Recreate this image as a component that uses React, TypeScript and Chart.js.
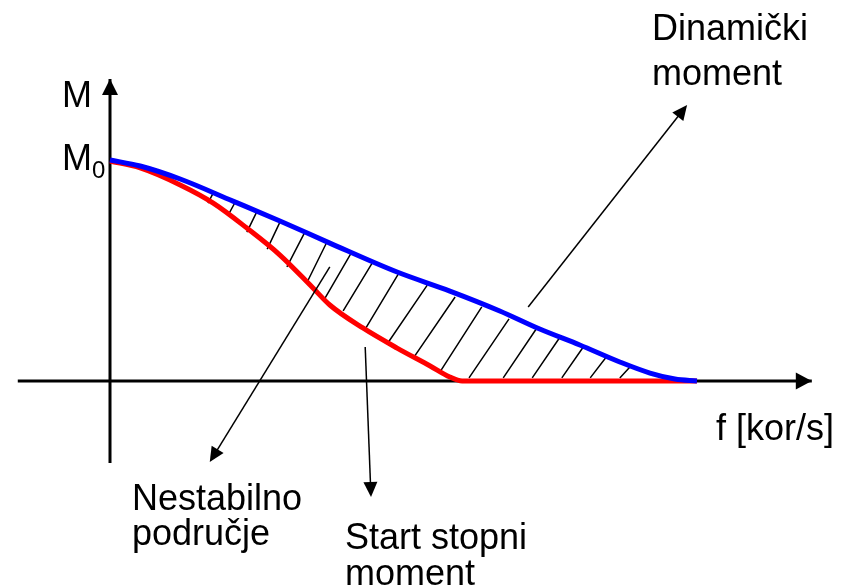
import React, { useEffect, useRef } from "react";
import { Chart, registerables } from "chart.js";

Chart.register(...registerables);

// Frequency f (0..~100, blue curve reaches zero at ~100) and torque M (M0 = 100)
const blueF = [0, 5.2, 12.1, 21.2, 29.3, 37.9, 49.5, 58.6, 67.2, 74.1, 81.0, 87.9, 93.1, 97.4, 101.2];
const blueM = [100, 97.3, 91.4, 81.4, 72.4, 62.4, 49.3, 40.7, 31.7, 23.5, 16.3, 8.6, 3.6, 0.9, 0];

const redF = [0, 5.2, 12.1, 17.8, 23.6, 29.3, 35.0, 37.9, 43.6, 49.5, 55.2, 58.6, 60.7, 101.2];
const redM = [99.5, 96.4, 88.7, 80.5, 69.2, 57.0, 42.1, 34.4, 24.0, 14.9, 6.8, 1.8, 0, 0];

// Hatching between the curves: start (on red) and end (on blue) of each stroke
const hatchF0 = [16.9, 20.3, 23.6, 27.1, 30.5, 34.0, 37.1, 40.2, 44.0, 47.9, 52.2, 56.9, 61.9, 67.8, 72.8, 77.9, 82.8, 87.9];
const hatchM0 = [80.5, 74.7, 67.4, 59.7, 51.6, 44.8, 37.6, 31.7, 23.5, 17.2, 10.0, 4.1, 1.4, 1.4, 1.4, 1.4, 1.4, 1.4];
const hatchF1 = [17.8, 21.6, 25.3, 29.3, 33.6, 37.4, 41.7, 45.3, 49.7, 54.7, 59.5, 64.1, 68.8, 73.6, 77.6, 81.6, 85.7, 89.8];
const hatchM1 = [85.1, 81.0, 76.5, 71.9, 67.4, 62.9, 58.4, 53.8, 48.4, 43.4, 38.0, 33.5, 28.1, 24.0, 19.9, 15.4, 11.3, 6.8];

// Axes (with arrow heads at the end)
const xAxisF = [-15.9, 121.0];
const xAxisM = [0, 0];
const yAxisF = [0, 0];
const yAxisM = [-37.1, 136.7];

// Annotation arrows: Dinamički moment, Nestabilno područje, Start stopni moment
const arrowTailF = [72.1, 37.9, 44.0];
const arrowTailM = [33.5, 51.6, 15.4];
const arrowHeadF = [99.5, 17.2, 45.0];
const arrowHeadM = [124.9, -36.7, -52.5];

const FONT = '"Liberation Sans", Arial, sans-serif';

type Label = { text: string; x: number; y: number; size: number };
const labels: Label[] = [
  { text: "M", x: 62, y: 107, size: 36 },
  { text: "M", x: 62, y: 170, size: 36 },
  { text: "0", x: 92, y: 178, size: 24 },
  { text: "Dinamički", x: 652, y: 40, size: 36 },
  { text: "moment", x: 652, y: 85, size: 36 },
  { text: "f [kor/s]", x: 716, y: 440, size: 36 },
  { text: "Nestabilno", x: 132, y: 510, size: 36 },
  { text: "područje", x: 132, y: 545, size: 36 },
  { text: "Start stopni", x: 345, y: 549, size: 36 },
  { text: "moment", x: 345, y: 585, size: 36 },
];

function drawArrowHead(ctx: CanvasRenderingContext2D, x0: number, y0: number, x1: number, y1: number, len: number, wid: number) {
  const a = Math.atan2(y1 - y0, x1 - x0);
  const bx = x1 - len * Math.cos(a);
  const by = y1 - len * Math.sin(a);
  const nx = -Math.sin(a) * wid / 2;
  const ny = Math.cos(a) * wid / 2;
  ctx.beginPath();
  ctx.moveTo(x1, y1);
  ctx.lineTo(bx + nx, by + ny);
  ctx.lineTo(bx - nx, by - ny);
  ctx.closePath();
  ctx.fill();
}

const diagramPlugin = {
  id: "diagram",
  afterDatasetsDraw(chart: any) {
    const ctx: CanvasRenderingContext2D = chart.ctx;
    const xs = chart.scales.x;
    const ys = chart.scales.y;
    ctx.save();
    ctx.fillStyle = "#000";
    ctx.strokeStyle = "#000";
    // axis arrow heads
    const ax0 = xs.getPixelForValue(xAxisF[0]);
    const ax1 = xs.getPixelForValue(xAxisF[1]);
    const ay = ys.getPixelForValue(xAxisM[1]);
    drawArrowHead(ctx, ax0, ay, ax1, ay, 16, 17);
    const bx = xs.getPixelForValue(yAxisF[1]);
    const by0 = ys.getPixelForValue(yAxisM[0]);
    const by1 = ys.getPixelForValue(yAxisM[1]);
    drawArrowHead(ctx, bx, by0, bx, by1, 16, 16);
    // annotation arrows
    ctx.lineWidth = 1.5;
    for (let i = 0; i < arrowTailF.length; i++) {
      const x0 = xs.getPixelForValue(arrowTailF[i]);
      const y0 = ys.getPixelForValue(arrowTailM[i]);
      const x1 = xs.getPixelForValue(arrowHeadF[i]);
      const y1 = ys.getPixelForValue(arrowHeadM[i]);
      const a = Math.atan2(y1 - y0, x1 - x0);
      ctx.beginPath();
      ctx.moveTo(x0, y0);
      ctx.lineTo(x1 - 10 * Math.cos(a), y1 - 10 * Math.sin(a));
      ctx.stroke();
      drawArrowHead(ctx, x0, y0, x1, y1, 15, 14);
    }
    // text
    ctx.textBaseline = "alphabetic";
    ctx.textAlign = "left";
    for (const l of labels) {
      ctx.font = `${l.size}px ${FONT}`;
      ctx.fillText(l.text, l.x, l.y);
    }
    ctx.restore();
  },
};

export default function App() {
  const ref = useRef<HTMLCanvasElement | null>(null);
  useEffect(() => {
    if (!ref.current) return;
    const hatchData: any[] = [];
    for (let i = 0; i < hatchF0.length; i++) {
      hatchData.push({ x: hatchF0[i], y: hatchM0[i] });
      hatchData.push({ x: hatchF1[i], y: hatchM1[i] });
      hatchData.push({ x: hatchF1[i] + 0.01, y: null });
    }
    const chart = new Chart(ref.current, {
      type: "line",
      data: {
        datasets: [
          {
            label: "šrafura",
            data: hatchData,
            borderColor: "#000",
            borderWidth: 1.5,
            pointRadius: 0,
            spanGaps: false,
            tension: 0,
            order: 5,
          },
          {
            label: "f os",
            data: xAxisF.map((f, i) => ({ x: f, y: xAxisM[i] })),
            borderColor: "#000",
            borderWidth: 3,
            pointRadius: 0,
            tension: 0,
            order: 4,
          },
          {
            label: "M os",
            data: yAxisF.map((f, i) => ({ x: f, y: yAxisM[i] })),
            borderColor: "#000",
            borderWidth: 3,
            pointRadius: 0,
            tension: 0,
            order: 3,
          },
          {
            label: "Start stopni moment",
            data: redF.map((f, i) => ({ x: f, y: redM[i] })),
            borderColor: "#ff0000",
            borderWidth: 5,
            pointRadius: 0,
            cubicInterpolationMode: "monotone",
            borderCapStyle: "butt",
            order: 2,
          },
          {
            label: "Dinamički moment",
            data: blueF.map((f, i) => ({ x: f, y: blueM[i] })),
            borderColor: "#0000ff",
            borderWidth: 5,
            pointRadius: 0,
            cubicInterpolationMode: "monotone",
            order: 1,
          },
        ],
      },
      options: {
        animation: false,
        responsive: false,
        devicePixelRatio: 1,
        layout: { padding: 0 },
        plugins: { legend: { display: false }, tooltip: { enabled: false }, title: { display: false } },
        scales: {
          x: { type: "linear", display: false, min: -110 / 5.8, max: 731 / 5.8 },
          y: { type: "linear", display: false, min: -206 / 2.21, max: 381 / 2.21 },
        },
      },
      plugins: [diagramPlugin],
    });
    return () => chart.destroy();
  }, []);
  return (
    <div style={{ position: "absolute", left: 0, top: 0, width: 841, height: 587, background: "#fff" }}>
      <canvas ref={ref} width={841} height={587} style={{ display: "block", width: 841, height: 587 }} />
    </div>
  );
}
